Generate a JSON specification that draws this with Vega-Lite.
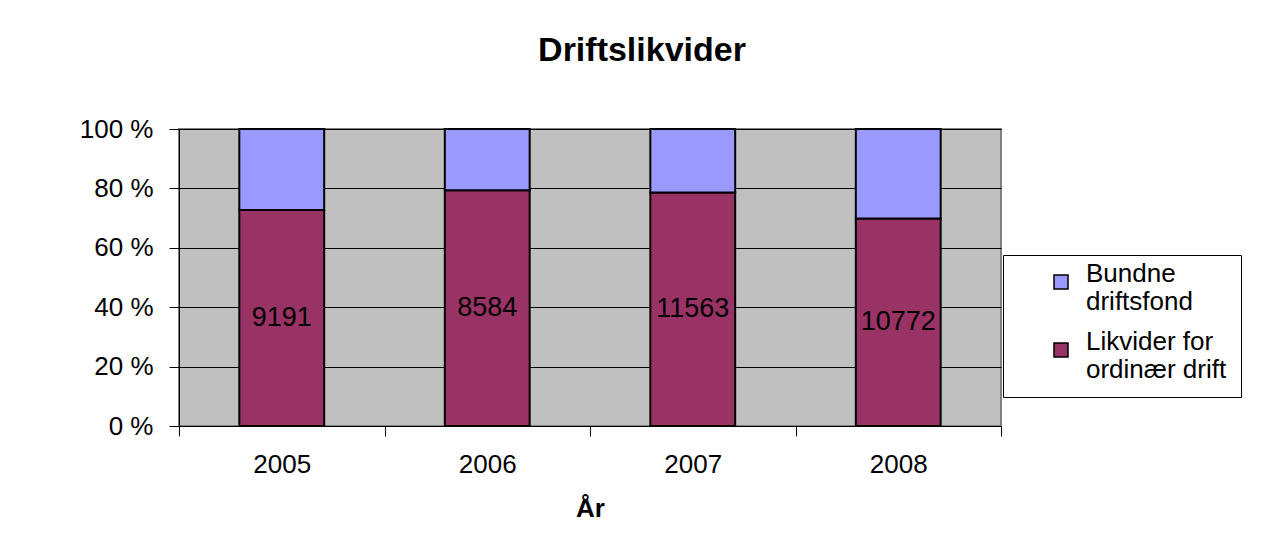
{
  "$schema": "https://vega.github.io/schema/vega-lite/v6.json",
  "width": 822,
  "height": 297,
  "autosize": {"type": "none"},
  "padding": {"left": 179, "top": 129, "right": 270, "bottom": 125},
  "background": "white",
  "config": {
    "font": "Liberation Sans",
    "view": {"fill": "#C0C0C0", "stroke": "#808080", "strokeWidth": 2},
    "axis": {
      "labelFont": "Liberation Sans",
      "labelColor": "black",
      "labelFontSize": 26,
      "domainColor": "black",
      "tickColor": "black",
      "gridColor": "black",
      "gridOpacity": 1,
      "titleFont": "Liberation Sans",
      "titleColor": "black"
    }
  },
  "title": {
    "text": "Driftslikvider",
    "fontSize": 34,
    "font": "Liberation Sans",
    "fontWeight": "bold",
    "color": "black",
    "anchor": "middle",
    "frame": "group",
    "dx": 52,
    "offset": 48
  },
  "data": {
    "values": [
      {"year": "2005", "series": "Likvider for ordinær drift", "amount": 9191},
      {"year": "2005", "series": "Bundne driftsfond", "amount": 3451},
      {"year": "2006", "series": "Likvider for ordinær drift", "amount": 8584},
      {"year": "2006", "series": "Bundne driftsfond", "amount": 2227},
      {"year": "2007", "series": "Likvider for ordinær drift", "amount": 11563},
      {"year": "2007", "series": "Bundne driftsfond", "amount": 3148},
      {"year": "2008", "series": "Likvider for ordinær drift", "amount": 10772},
      {"year": "2008", "series": "Bundne driftsfond", "amount": 4639}
    ]
  },
  "encoding": {
    "x": {
      "field": "year",
      "type": "nominal",
      "scale": {"paddingInner": 0, "paddingOuter": 0},
      "axis": {
        "title": "År",
        "titleFontSize": 26,
        "titleFontWeight": "bold",
        "titlePadding": 18,
        "labelAngle": 0,
        "tickBand": "extent",
        "tickSize": 10,
        "labelPadding": 15,
        "domainWidth": 1,
        "grid": false
      }
    }
  },
  "layer": [
    {
      "mark": {"type": "bar", "stroke": "black", "strokeWidth": 2, "width": {"band": 0.413}},
      "encoding": {
        "y": {
          "field": "amount",
          "type": "quantitative",
          "stack": "normalize",
          "scale": {"domain": [0, 1]},
          "axis": {
            "title": null,
            "values": [0, 0.2, 0.4, 0.6, 0.8, 1],
            "format": ".0%",
            "labelExpr": "replace(datum.label, '%', ' %')",
            "tickSize": 10,
            "labelPadding": 16,
            "grid": true,
            "gridWidth": 1,
            "domainWidth": 1
          }
        },
        "color": {
          "field": "series",
          "type": "nominal",
          "scale": {
            "domain": ["Bundne driftsfond", "Likvider for ordinær drift"],
            "range": ["#9999FF", "#993366"]
          },
          "legend": {
            "orient": "none",
            "legendX": 824,
            "legendY": 126,
            "title": null,
            "symbolType": "square",
            "symbolSize": 196,
            "symbolStrokeColor": "black",
            "symbolStrokeWidth": 1.5,
            "labelFontSize": 26,
            "labelFont": "Liberation Sans",
            "labelColor": "black",
            "labelExpr": "datum.label == 'Bundne driftsfond' ? ['Bundne', 'driftsfond'] : ['Likvider for', 'ordinær drift']",
            "labelLineHeight": 31,
            "labelBaseline": "alphabetic",
            "labelLimit": 400,
            "strokeColor": "black",
            "fillColor": "white",
            "padding": 14,
            "symbolOffset": 31,
            "labelOffset": 12,
            "rowPadding": 14
          }
        },
        "order": {"field": "series", "sort": "descending"}
      }
    },
    {
      "transform": [
        {"stack": "amount", "groupby": ["year"], "sort": [{"field": "series", "order": "descending"}], "offset": "normalize", "as": ["y0", "y1"]},
        {"filter": "datum.series == 'Likvider for ordinær drift'"},
        {"fold": ["y0", "y1"], "as": ["edge", "pos"]}
      ],
      "mark": {"type": "text", "fontSize": 27, "color": "black", "font": "Liberation Sans"},
      "encoding": {
        "y": {"field": "pos", "type": "quantitative", "aggregate": "mean", "axis": {"title": null}},
        "text": {"field": "amount", "type": "quantitative", "aggregate": "max", "format": "d"}
      }
    }
  ]
}
